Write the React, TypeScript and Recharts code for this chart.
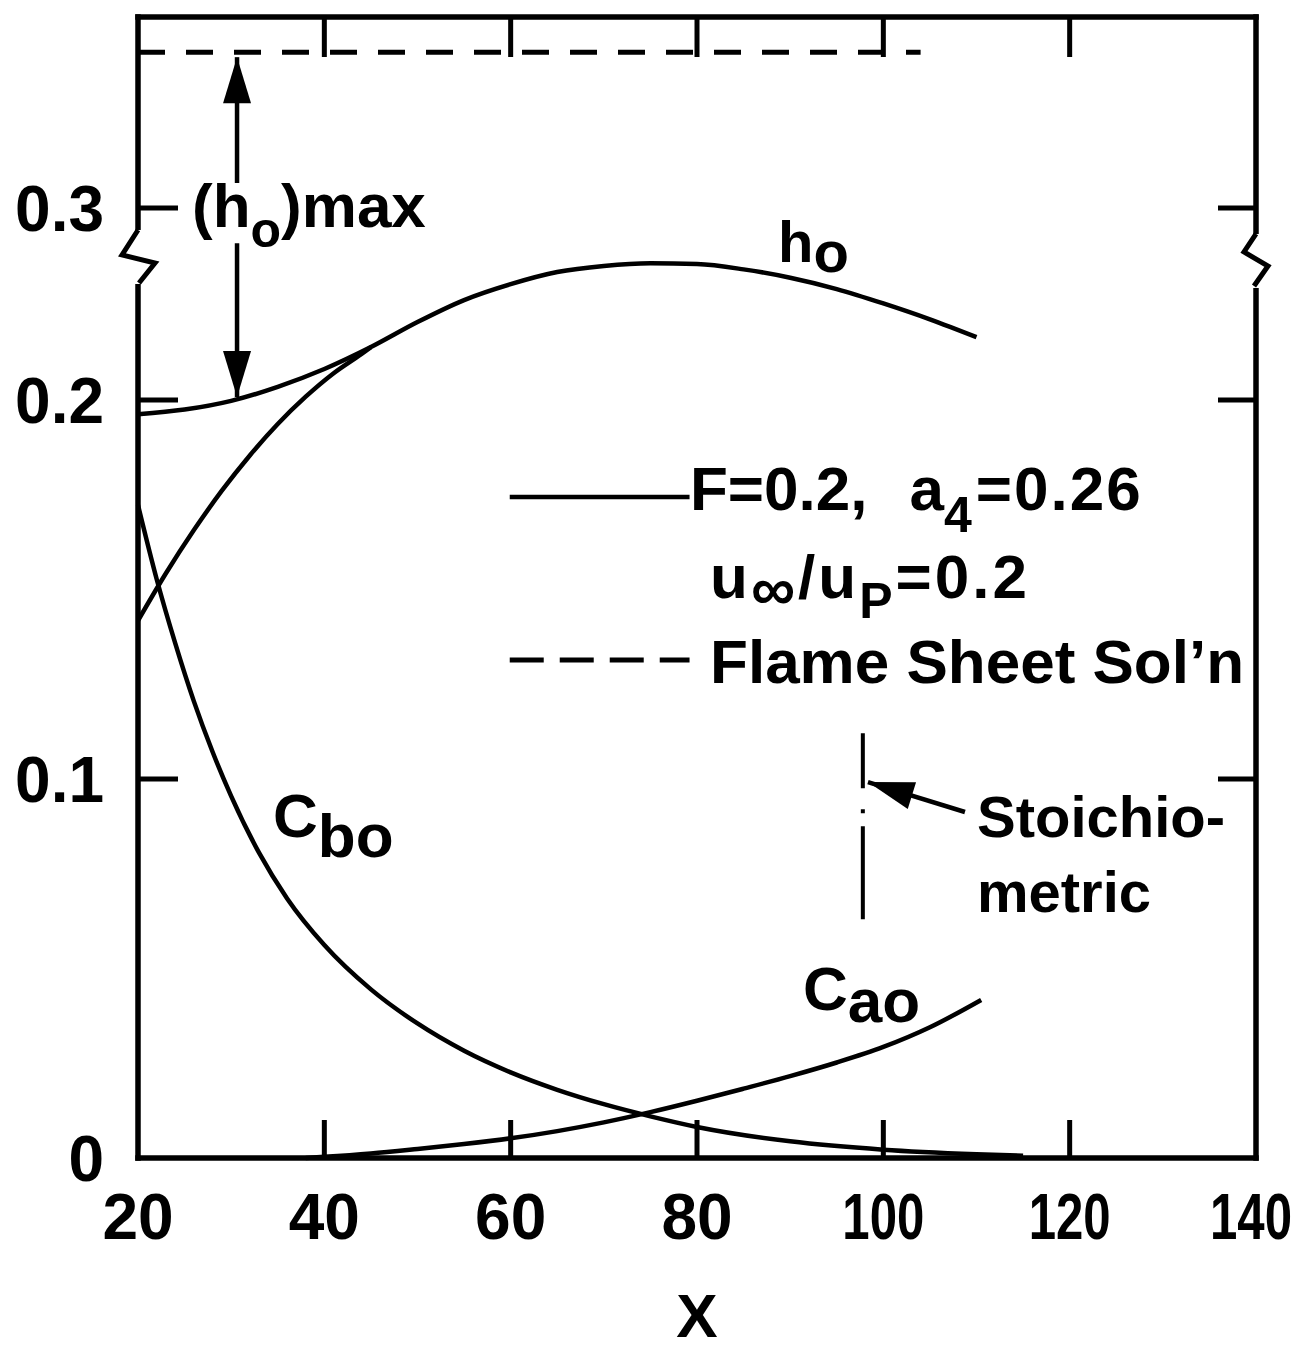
import React from 'react';
import { LineChart, Line, XAxis, YAxis, ReferenceLine, ReferenceDot } from 'recharts';

const FONT = '"Liberation Sans", Arial, Helvetica, sans-serif';

// axis setup; the y axis is broken above 0.2, so the "0.3" tick sits lower than a linear 0.3 would
const xTicks = [20, 40, 60, 80, 100, 120, 140];
const yTicks = [0, 0.1, 0.2, 0.2507];
const yTickLabels = ['0', '0.1', '0.2', '0.3'];
const xDomain = [20, 140];
const yDomain = [0, 0.3011];

// h_o, branch starting near 0.197
const hoX = [20, 25, 30, 35, 40, 45, 50, 55, 60, 65, 70, 75, 80, 85, 90, 95, 100, 105, 110];
const hoY = [0.1963, 0.1975, 0.1998, 0.2035, 0.2082, 0.214, 0.2206, 0.2264, 0.2306, 0.2338, 0.2354, 0.2361, 0.2359, 0.2345, 0.2323, 0.2293, 0.2255, 0.2213, 0.2166];

// h_o, branch rising from 0.142 into the main curve
const hoRiseX = [20, 23, 26, 29, 32, 35, 38, 41, 44, 45];
const hoRiseY = [0.1418, 0.1543, 0.1657, 0.1761, 0.1854, 0.1937, 0.2009, 0.2071, 0.2122, 0.214];

// C_bo
const cboX = [20, 22, 24, 26, 28, 30, 33, 36, 40, 45, 50, 55, 60, 65, 70, 75, 80, 90, 100, 110, 115];
const cboY = [0.1723, 0.1528, 0.1358, 0.1205, 0.1072, 0.0955, 0.0805, 0.0685, 0.0562, 0.0445, 0.0355, 0.0283, 0.0226, 0.018, 0.0142, 0.011, 0.0082, 0.0044, 0.0022, 0.001, 0.0006];

// C_ao
const caoX = [38, 40, 45, 50, 55, 60, 65, 70, 75, 80, 85, 90, 95, 100, 105, 110.5];
const caoY = [0, 0.0003, 0.0012, 0.0024, 0.0037, 0.0052, 0.0071, 0.0094, 0.0121, 0.0151, 0.0183, 0.0216, 0.0252, 0.0293, 0.0345, 0.0417];

// flame sheet solution (h_o)max
const flameX = [20, 104];
const flameY = [0.2918, 0.2918];

const pts = (xs: number[], ys: number[]) => xs.map((x, i) => ({ x, y: ys[i] }));

const frame = { stroke: '#000', strokeWidth: 5.5, strokeLinecap: 'square' };
const txt = { fontFamily: FONT, fontWeight: 'bold', fontSize: 58, fill: '#000' } as const;
const key = { ...txt, fontSize: 62 };

const yLabel = (v: number) => {
  const i = yTicks.findIndex((t) => Math.abs(t - v) < 1e-6);
  return i < 0 ? '' : yTickLabels[i];
};

function LeftTick(props: any) {
  const { x, y, payload } = props;
  const label = yLabel(payload.value);
  return (
    <g>
      {payload.value > 0 && <line x1={x} y1={y} x2={x + 40} y2={y} stroke="#000" strokeWidth={5} />}
      {label === '0.3' && (
        <g>
          <rect x={x - 7} y={y + 22} width={14} height={54} fill="#fff" />
          <path d={`M${x},${y + 22} L${x - 16},${y + 47} L${x + 17},${y + 55} L${x + 1},${y + 75}`} fill="none" stroke="#000" strokeWidth={5} />
        </g>
      )}
      <text x={x - 34} y={y + 23} textAnchor="end" fontSize={64} fontWeight="bold" fontFamily={FONT} fill="#000">
        {label}
      </text>
    </g>
  );
}

function RightTick(props: any) {
  const { x, y, payload } = props;
  const label = yLabel(payload.value);
  return (
    <g>
      {payload.value > 0 && <line x1={x - 38} y1={y} x2={x} y2={y} stroke="#000" strokeWidth={5} />}
      {label === '0.3' && (
        <g>
          <rect x={x - 7} y={y + 26} width={14} height={54} fill="#fff" />
          <path d={`M${x},${y + 26} L${x - 12},${y + 44} L${x + 12},${y + 58} L${x - 2},${y + 78}`} fill="none" stroke="#000" strokeWidth={5} />
        </g>
      )}
    </g>
  );
}

function BottomTick(props: any) {
  const { x, y, payload } = props;
  const inner = payload.value > 20 && payload.value < 140;
  const wide = String(payload.value).length > 2;
  // the last label is right-aligned so it stays on the page
  const last = payload.value === 140;
  return (
    <g>
      {inner && <line x1={x} y1={y} x2={x} y2={y - 38} stroke="#000" strokeWidth={5} />}
      <text
        x={last ? x + 36 : x}
        y={y + 81}
        textAnchor={last ? 'end' : 'middle'}
        fontSize={64}
        fontWeight="bold"
        fontFamily={FONT}
        fill="#000"
        textLength={wide ? 82 : undefined}
        lengthAdjust={wide ? 'spacingAndGlyphs' : undefined}
      >
        {payload.value}
      </text>
    </g>
  );
}

function TopTick(props: any) {
  const { x, y, payload } = props;
  const inner = payload.value > 20 && payload.value < 140;
  return <g>{inner && <line x1={x} y1={y} x2={x} y2={y + 40} stroke="#000" strokeWidth={5} />}</g>;
}

const arrowHead = (angle: number) => (p: any) => (
  <polygon points="0,0 46,-14 46,14" transform={`translate(${p.cx},${p.cy}) rotate(${angle})`} fill="#000" />
);

const AX = { xAxisId: 'bottom', yAxisId: 'left' } as const;

export default function App() {
  return (
    <div style={{ position: 'absolute', left: 0, top: 0, background: '#fff' }}>
      <LineChart width={1301} height={1353} margin={{ top: 16, right: 44, bottom: 194, left: 137 }}>
        <XAxis
          xAxisId="bottom"
          dataKey="x"
          type="number"
          domain={xDomain}
          ticks={xTicks}
          interval={0}
          height={1}
          tickSize={0}
          tickMargin={0}
          tickLine={false}
          axisLine={frame}
          tick={BottomTick}
          label={{ value: 'X', position: 'bottom', offset: 134, fontSize: 62, fontWeight: 'bold', fontFamily: FONT, fill: '#000' }}
        />
        <XAxis
          xAxisId="top"
          orientation="top"
          dataKey="x"
          type="number"
          domain={xDomain}
          ticks={xTicks}
          interval={0}
          height={1}
          tickSize={0}
          tickMargin={0}
          tickLine={false}
          axisLine={frame}
          tick={TopTick}
        />
        <YAxis
          yAxisId="left"
          type="number"
          domain={yDomain}
          ticks={yTicks}
          interval={0}
          width={1}
          tickSize={0}
          tickMargin={0}
          tickLine={false}
          axisLine={frame}
          tick={LeftTick}
        />
        <YAxis
          yAxisId="right"
          orientation="right"
          type="number"
          domain={yDomain}
          ticks={yTicks}
          interval={0}
          width={1}
          tickSize={0}
          tickMargin={0}
          tickLine={false}
          axisLine={frame}
          tick={RightTick}
        />

        <Line {...AX} data={pts(hoX, hoY)} dataKey="y" type="monotone" stroke="#000" strokeWidth={4.5} dot={false} isAnimationActive={false} />
        <Line {...AX} data={pts(hoRiseX, hoRiseY)} dataKey="y" type="monotone" stroke="#000" strokeWidth={4.5} dot={false} isAnimationActive={false} />
        <Line {...AX} data={pts(cboX, cboY)} dataKey="y" type="monotone" stroke="#000" strokeWidth={4.5} dot={false} isAnimationActive={false} />
        <Line {...AX} data={pts(caoX, caoY)} dataKey="y" type="monotone" stroke="#000" strokeWidth={4.5} dot={false} isAnimationActive={false} />
        <Line xAxisId="top" yAxisId="right" data={pts(flameX, flameY)} dataKey="y" type="linear" stroke="#000" strokeWidth={5} strokeDasharray="27 21" dot={false} isAnimationActive={false} />

        {/* (h_o)max double arrow */}
        <ReferenceLine {...AX} segment={[{ x: 30.63, y: 0.2905 }, { x: 30.63, y: 0.2573 }]} stroke="#000" strokeWidth={4.5} />
        <ReferenceLine {...AX} segment={[{ x: 30.63, y: 0.2414 }, { x: 30.63, y: 0.2008 }]} stroke="#000" strokeWidth={4.5} />
        <ReferenceDot {...AX} x={30.63} y={0.2905} r={0} shape={arrowHead(90)} />
        <ReferenceDot {...AX} x={30.63} y={0.2008} r={0} shape={arrowHead(-90)} />
        <ReferenceDot {...AX} x={25.8} y={0.2456} r={0} shape={(p: any) => (
          <text x={p.cx} y={p.cy} style={{ ...txt, fontSize: 62 }}>
            (h<tspan dy={20} style={{ fontSize: 50 }}>o</tspan><tspan dy={-20}>)max</tspan>
          </text>
        )} />

        {/* curve labels */}
        <ReferenceDot {...AX} x={88.69} y={0.2364} r={0} shape={(p: any) => (
          <text x={p.cx} y={p.cy} style={txt}>
            h<tspan dy={10}>o</tspan>
          </text>
        )} />
        <ReferenceDot {...AX} x={34.49} y={0.0847} r={0} shape={(p: any) => (
          <text x={p.cx} y={p.cy} style={{ ...txt, fontSize: 62 }}>
            C<tspan dy={20}>bo</tspan>
          </text>
        )} />
        <ReferenceDot {...AX} x={91.37} y={0.0391} r={0} shape={(p: any) => (
          <text x={p.cx} y={p.cy} style={{ ...txt, fontSize: 62 }}>
            C<tspan dy={12}>ao</tspan>
          </text>
        )} />

        {/* key */}
        <ReferenceLine {...AX} segment={[{ x: 59.9, y: 0.1744 }, { x: 79.2, y: 0.1744 }]} stroke="#000" strokeWidth={4.5} />
        <ReferenceLine {...AX} segment={[{ x: 59.9, y: 0.1314 }, { x: 79.2, y: 0.1314 }]} stroke="#000" strokeWidth={5} strokeDasharray="34 16" />
        <ReferenceDot {...AX} x={79.25} y={0.171} r={0} shape={(p: any) => (
          <text x={p.cx} y={p.cy} style={key}>
            F=0.2,<tspan dx={42}>a</tspan><tspan dy={22} style={{ fontSize: 50 }}>4</tspan><tspan dy={-22} dx={4} letterSpacing={2}>=0.26</tspan>
          </text>
        )} />
        <ReferenceDot {...AX} x={81.4} y={0.1478} r={0} shape={(p: any) => (
          <text x={p.cx} y={p.cy} style={key} letterSpacing={3}>
            u<tspan dy={12}>∞</tspan><tspan dy={-12}>/u</tspan><tspan dy={20} style={{ fontSize: 50 }}>P</tspan><tspan dy={-20}>=0.2</tspan>
          </text>
        )} />
        <ReferenceDot {...AX} x={81.4} y={0.1253} r={0} shape={(p: any) => (
          <text x={p.cx} y={p.cy} style={key}>Flame Sheet Sol’n</text>
        )} />

        {/* stoichiometric marker */}
        <ReferenceLine {...AX} segment={[{ x: 97.8, y: 0.1121 }, { x: 97.8, y: 0.0628 }]} stroke="#000" strokeWidth={4} strokeDasharray="55 21 4 13 93" />
        <ReferenceLine {...AX} segment={[{ x: 98.35, y: 0.0992 }, { x: 108.76, y: 0.0913 }]} stroke="#000" strokeWidth={4.5} />
        <ReferenceDot {...AX} x={98.35} y={0.0992} r={0} shape={arrowHead(17.2)} />
        <ReferenceDot {...AX} x={110.05} y={0.0847} r={0} shape={(p: any) => (
          <text x={p.cx} y={p.cy} style={txt}>Stoichio-</text>
        )} />
        <ReferenceDot {...AX} x={110.05} y={0.0649} r={0} shape={(p: any) => (
          <text x={p.cx} y={p.cy} style={txt}>metric</text>
        )} />
      </LineChart>
    </div>
  );
}
